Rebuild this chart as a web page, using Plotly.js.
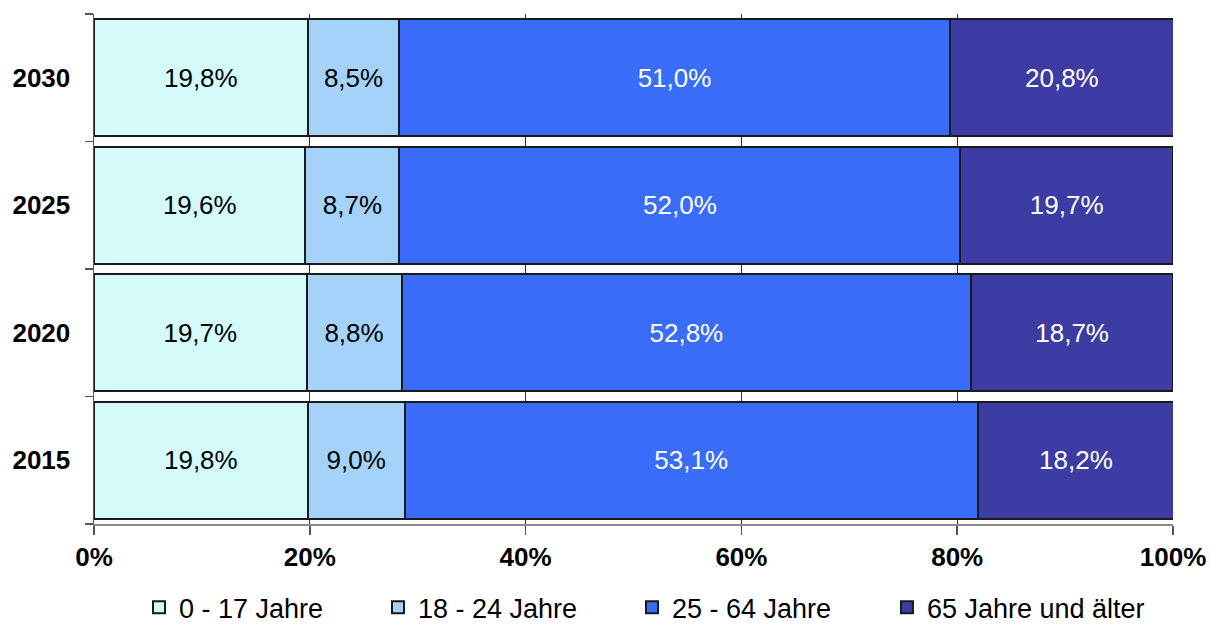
<!DOCTYPE html>
<html>
<head>
<meta charset="utf-8">
<script src="https://cdn.plot.ly/plotly-3.0.1.min.js"></script>
<style>html,body{margin:0;padding:0;background:#fff;}#chart{width:1210px;height:625px;}</style>
</head>
<body>
<div id="chart"></div>
<script>
var years = ['2015', '2020', '2025', '2030'];
var seriesNames = ['0 - 17 Jahre', '18 - 24 Jahre', '25 - 64 Jahre', '65 Jahre und älter'];
var age0to17 = [19.8, 19.7, 19.6, 19.8];
var age18to24 = [9.0, 8.8, 8.7, 8.5];
var age25to64 = [53.1, 52.8, 52.0, 51.0];
var age65plus = [18.2, 18.7, 19.7, 20.8];
var xTickVals = [0, 20, 40, 60, 80, 100];
var xTickLabels = ['0%', '20%', '40%', '60%', '80%', '100%'];

var colors = ['#d4fafa', '#a5d2f8', '#3a6cfa', '#3c3ca4'];
var textColors = ['#000000', '#000000', '#ffffff', '#ffffff'];
var values = [age0to17, age18to24, age25to64, age65plus];
var legendIds = ['legend', 'legend2', 'legend3', 'legend4'];
var legendX = [0.0417, 0.2632, 0.4986, 0.7349];

var traces = values.map(function (v, i) {
  return {
    type: 'bar',
    orientation: 'h',
    name: seriesNames[i],
    legend: legendIds[i],
    x: v,
    y: years,
    marker: { color: colors[i], line: { color: '#1a1a1a', width: 2 } },
    texttemplate: '%{x:.1f}%',
    textposition: 'inside',
    insidetextanchor: 'middle',
    textangle: 0,
    constraintext: 'none',
    textfont: { family: 'Liberation Sans, Arial, sans-serif', size: 26, color: textColors[i] },
    hoverinfo: 'skip'
  };
});

var layout = {
  width: 1210,
  height: 625,
  margin: { l: 94, r: 37, t: 14, b: 101, autoexpand: false },
  paper_bgcolor: '#ffffff',
  plot_bgcolor: '#ffffff',
  separators: ',.',
  barmode: 'stack',
  bargap: 0.08,
  showlegend: true,
  hovermode: false,
  font: { family: 'Liberation Sans, Arial, sans-serif', color: '#000' },
  xaxis: {
    range: [0, 100],
    tickmode: 'array',
    tickvals: xTickVals,
    ticktext: xTickLabels,
    ticks: 'outside',
    ticklen: 9,
    tickcolor: '#555',
    tickwidth: 1.5,
    showgrid: true,
    gridcolor: '#333',
    gridwidth: 1,
    zeroline: false,
    showline: true,
    linecolor: '#888',
    linewidth: 2,
    automargin: false,
    tickfont: { family: 'Liberation Sans, Arial, sans-serif', size: 26, weight: 'bold', color: '#000' },
    fixedrange: true
  },
  yaxis: {
    type: 'category',
    categoryorder: 'array',
    categoryarray: years,
    ticks: 'outside',
    tickson: 'boundaries',
    ticklen: 8,
    tickcolor: '#555',
    tickwidth: 1.5,
    showgrid: false,
    showline: true,
    linecolor: '#555',
    linewidth: 1.5,
    automargin: false,
    ticklabelstandoff: 17,
    tickfont: { family: 'Liberation Sans, Arial, sans-serif', size: 26, weight: 'bold', color: '#000' },
    fixedrange: true
  }
};

legendIds.forEach(function (id, i) {
  layout[id] = {
    orientation: 'h',
    x: legendX[i],
    xanchor: 'left',
    y: -0.116,
    yanchor: 'top',
    font: { family: 'Liberation Sans, Arial, sans-serif', size: 27, color: '#000' },
    bgcolor: 'rgba(0,0,0,0)'
  };
});

Plotly.newPlot('chart', traces, layout, { displayModeBar: false, staticPlot: true });
</script>
</body>
</html>
